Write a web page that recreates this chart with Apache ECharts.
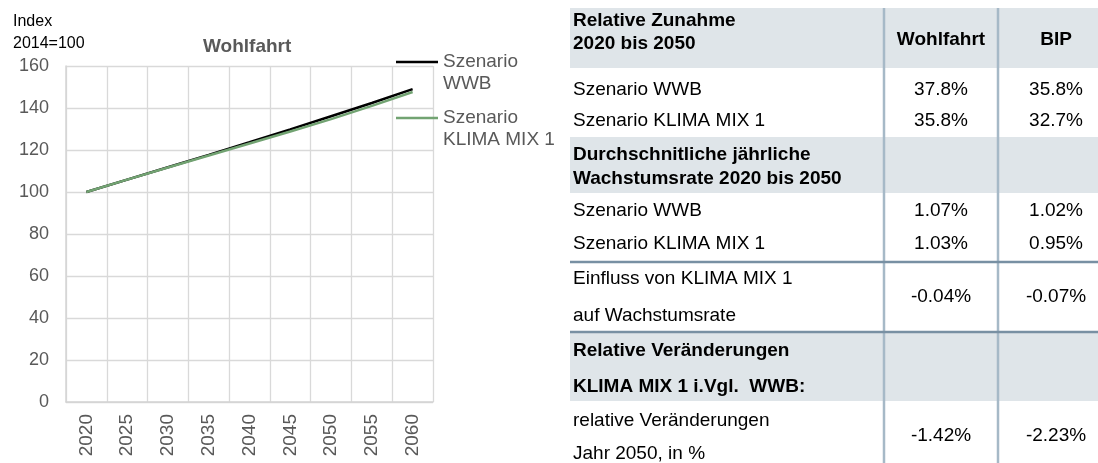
<!DOCTYPE html>
<html>
<head>
<meta charset="utf-8">
<script src="https://cdn.jsdelivr.net/npm/echarts@6/dist/echarts.min.js"></script>
<style>
html,body{margin:0;padding:0;background:#fff;}
#c{width:1098px;height:463px;}
</style>
</head>
<body>
<div id="c"></div>
<script>
// ---------- data ----------
const years = ['2020','2025','2030','2035','2040','2045','2050','2055','2060'];
const seriesNames = ['Szenario\nWWB', 'Szenario\nKLIMA MIX 1'];
const wwb   = [100, 105.9, 111.8, 117.7, 123.7, 129.8, 136.1, 142.4, 149.0];
const klima = [100, 105.9, 111.7, 117.4, 123.1, 128.8, 134.7, 141.0, 147.6];
const chartTitle = 'Wohlfahrt';
const axisTitle = 'Index\n2014=100';

const tableLabels = [
  'Relative Zunahme\n2020 bis 2050',
  'Szenario WWB',
  'Szenario KLIMA MIX 1',
  'Durchschnitliche jährliche\nWachstumsrate 2020 bis 2050',
  'Szenario WWB',
  'Szenario KLIMA MIX 1',
  'Einfluss von KLIMA MIX 1\nauf Wachstumsrate',
  'Relative Veränderungen\nKLIMA MIX 1 i.Vgl.  WWB:',
  'relative Veränderungen\nJahr 2050, in %'
];
const colWohlfahrt = ['Wohlfahrt', '37.8%', '35.8%', '', '1.07%', '1.03%', '-0.04%', '', '-1.42%'];
const colBip       = ['BIP',       '35.8%', '32.7%', '', '1.02%', '0.95%', '-0.07%', '', '-2.23%'];
const sectionRows = [0, 3, 7];

// ---------- layout (table) ----------
const TX = 570, TW = 528;
const rowTop    = [8, 68, 104, 137, 193, 227, 262, 332, 401];
const rowBottom = [68, 104, 137, 193, 227, 262, 332, 401, 463];
const lineYs = [[21,44],[90],[121],[155,179],[211],[244],[279,316],[351,387],[421,454]];
const valueYs = [40, 90, 121, 166, 211, 244, 297, 366, 436];
const colCenters = [941, 1056];
const dividerX = [884, 998];
const darkLineY = [262, 332];
const FONT = '"Liberation Sans", Arial, sans-serif';

const gfx = [];
sectionRows.forEach(function (r) {
  gfx.push({type:'rect', shape:{x:TX, y:rowTop[r], width:TW, height:rowBottom[r]-rowTop[r]}, style:{fill:'#dfe5e9'}, z:1});
});
darkLineY.forEach(function (y) {
  gfx.push({type:'line', shape:{x1:TX, y1:y, x2:TX+TW, y2:y}, style:{stroke:'#7890a3', lineWidth:2.5}, z:3});
});
dividerX.forEach(function (x) {
  gfx.push({type:'line', shape:{x1:x, y1:8, x2:x, y2:463}, style:{stroke:'#a6b9c7', lineWidth:2.5}, z:2});
});
tableLabels.forEach(function (lab, r) {
  const bold = sectionRows.indexOf(r) >= 0;
  lab.split('\n').forEach(function (line, i) {
    gfx.push({type:'text', z:4, style:{text:line, x:TX+3, y:lineYs[r][i], fill:'#000',
      font:(bold?'bold ':'')+'19px '+FONT, align:'left', verticalAlign:'middle',
      textAlign:'left', textVerticalAlign:'middle'}});
  });
  [colWohlfahrt[r], colBip[r]].forEach(function (v, c) {
    if (!v) return;
    gfx.push({type:'text', z:4, style:{text:v, x:colCenters[c], y:valueYs[r], fill:'#000',
      font:(r===0?'bold ':'')+'19px '+FONT, align:'center', verticalAlign:'middle',
      textAlign:'center', textVerticalAlign:'middle'}});
  });
});

const chart = echarts.init(document.getElementById('c'), null, {renderer:'canvas'});
const legendText = {color:'#595959', fontSize:19, fontFamily:FONT, lineHeight:22};
const legendFmt = function (name) { return ' \n' + name; };
chart.setOption({
  animation:false,
  backgroundColor:'#fff',
  title:[
    {text:chartTitle, left:203, top:36, padding:0,
     textStyle:{color:'#595959', fontSize:19, fontWeight:'bold', fontFamily:FONT, lineHeight:22}},
    {text:axisTitle, left:13, top:11, padding:0,
     textStyle:{color:'#000', fontSize:16, fontWeight:'normal', fontFamily:FONT, lineHeight:22}}
  ],
  legend:[
    {data:[seriesNames[0]], orient:'vertical', left:396, top:29, padding:0, icon:'rect',
     itemWidth:42, itemHeight:2.5, textStyle:legendText, formatter:legendFmt, selectedMode:false},
    {data:[seriesNames[1]], orient:'vertical', left:396, top:85, padding:0, icon:'rect',
     itemWidth:42, itemHeight:2.5, textStyle:legendText, formatter:legendFmt, selectedMode:false}
  ],
  grid:{left:66, top:66, right:665, bottom:61, containLabel:false, outerBoundsMode:'none'},
  xAxis:{
    type:'category', data:years, boundaryGap:true,
    axisLine:{show:true, lineStyle:{color:'#d4d4d4', width:1.5}},
    axisTick:{show:false},
    splitLine:{show:true, interval:0, lineStyle:{color:'#d9d9d9', width:1.3}},
    axisLabel:{interval:0, rotate:90, margin:12, color:'#595959', fontSize:19, fontFamily:FONT}
  },
  yAxis:{
    type:'value', min:0, max:160, interval:20,
    axisLine:{show:true, lineStyle:{color:'#d4d4d4', width:1.5}},
    axisTick:{show:false},
    splitLine:{show:true, lineStyle:{color:'#d9d9d9', width:1.3}},
    axisLabel:{margin:17, color:'#595959', fontSize:18, fontFamily:FONT}
  },
  series:[
    {name:seriesNames[0], type:'line', data:wwb, symbol:'none', showSymbol:false,
     lineStyle:{color:'#000', width:2.5}, itemStyle:{color:'#000'}, z:3},
    {name:seriesNames[1], type:'line', data:klima, symbol:'none', showSymbol:false,
     lineStyle:{color:'#72a372', width:2.5}, itemStyle:{color:'#72a372'}, z:4}
  ],
  graphic:{elements:gfx}
});
</script>
</body>
</html>
